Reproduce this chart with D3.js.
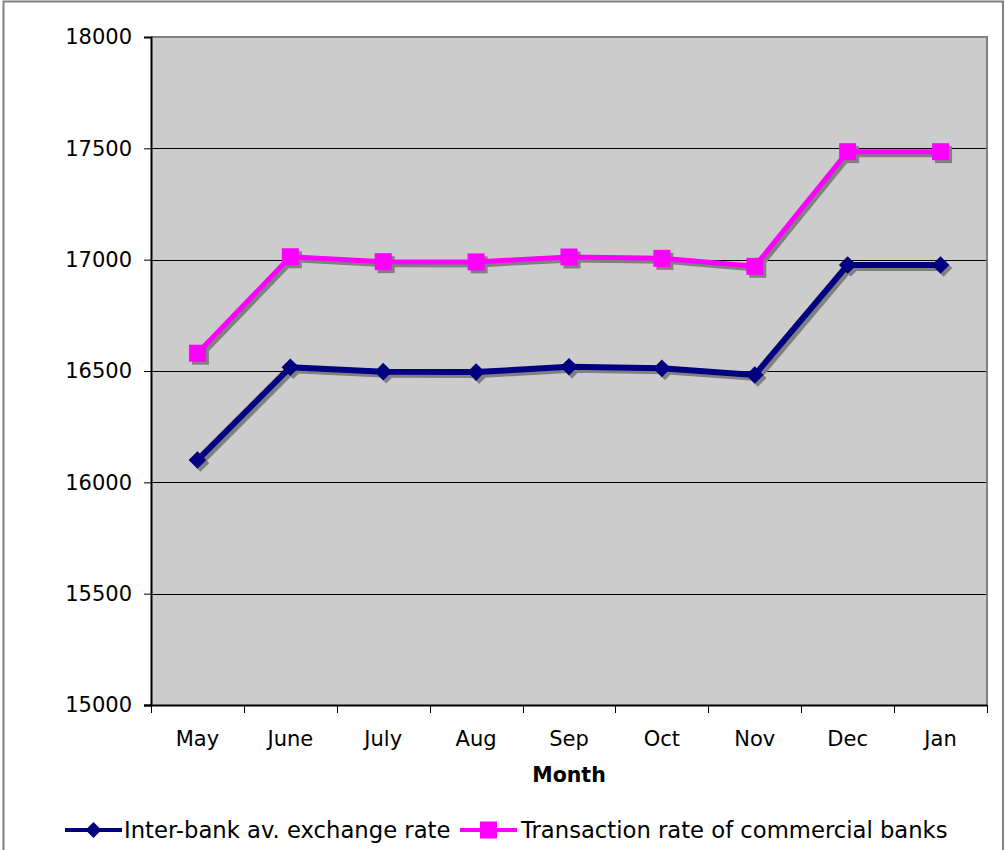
<!DOCTYPE html>
<html>
<head>
<meta charset="utf-8">
<script src="https://cdn.jsdelivr.net/npm/d3@7/dist/d3.min.js"></script>
<style>
  html, body { margin: 0; padding: 0; background: #fff; }
  svg { display: block; }
  text { font-family: "DejaVu Sans", Verdana, sans-serif; fill: #000; }
</style>
</head>
<body>
<svg id="chart" width="1005" height="850"></svg>
<script>
// Monthly exchange rates
const months = ["May", "June", "July", "Aug", "Sep", "Oct", "Nov", "Dec", "Jan"];
const interbankRate = [16100, 16517, 16497, 16495, 16519, 16512, 16482, 16976, 16976];
const commercialRate = [16580, 17013, 16991, 16990, 17012, 17006, 16970, 17485, 17485];
const yTicks = [15000, 15500, 16000, 16500, 17000, 17500, 18000];
const seriesNames = ["Inter-bank av. exchange rate", "Transaction rate of commercial banks"];

const svg = d3.select("#chart");

// outer chart frame
svg.append("rect")
  .attr("x", 3.5).attr("y", 1.5)
  .attr("width", 999.5).attr("height", 870)
  .attr("fill", "#fff").attr("stroke", "#808080").attr("stroke-width", 2);

const plot = { left: 151, right: 987, top: 37, bottom: 705 };

const x = d3.scaleBand().domain(months).range([plot.left, plot.right]).padding(0);
const y = d3.scaleLinear().domain([15000, 18000]).range([plot.bottom, plot.top]);

// plot background
svg.append("rect")
  .attr("x", plot.left).attr("y", plot.top)
  .attr("width", plot.right - plot.left).attr("height", plot.bottom - plot.top)
  .attr("fill", "#cccccc");

// horizontal gridlines
svg.append("g").selectAll("line")
  .data(yTicks.filter(t => t > 15000 && t < 18000))
  .join("line")
  .attr("x1", plot.left).attr("x2", plot.right)
  .attr("y1", d => Math.round(y(d)) + 0.5).attr("y2", d => Math.round(y(d)) + 0.5)
  .attr("stroke", "#000").attr("stroke-width", 1);

// plot border (top and right)
svg.append("path")
  .attr("d", `M${plot.left},${plot.top} H${plot.right} V${plot.bottom}`)
  .attr("fill", "none").attr("stroke", "#808080").attr("stroke-width", 2);

// y axis
const yAxis = d3.axisLeft(y).tickValues(yTicks).tickSize(7).tickPadding(12).tickFormat(d3.format("d"));
const gy = svg.append("g").attr("transform", `translate(${plot.left},0)`).call(yAxis);
gy.select(".domain").attr("stroke", "#000").attr("stroke-width", 2);
gy.selectAll(".tick line").attr("stroke", "#000");
gy.selectAll(".tick text").attr("font-size", 21).attr("font-family", "DejaVu Sans, Verdana, sans-serif").attr("fill", "#000");

// x axis: ticks sit on category boundaries
const gx = svg.append("g").attr("transform", `translate(0,${plot.bottom})`);
gx.append("line")
  .attr("x1", plot.left - 7).attr("x2", plot.right)
  .attr("y1", 0.5).attr("y2", 0.5)
  .attr("stroke", "#000").attr("stroke-width", 2);
const boundaries = months.map(m => x(m)).concat([x(months[months.length - 1]) + x.bandwidth()]);
gx.selectAll("line.tk").data(boundaries).join("line")
  .attr("class", "tk")
  .attr("x1", d => Math.round(d) + 0.5).attr("x2", d => Math.round(d) + 0.5)
  .attr("y1", 0).attr("y2", 8)
  .attr("stroke", "#000");
gx.selectAll("text").data(months).join("text")
  .attr("x", d => x(d) + x.bandwidth() / 2)
  .attr("y", 41)
  .attr("text-anchor", "middle")
  .attr("font-size", 21)
  .text(d => d);

// axis title
svg.append("text")
  .attr("x", (plot.left + plot.right) / 2).attr("y", 782)
  .attr("text-anchor", "middle")
  .attr("font-size", 20.5).attr("font-weight", "bold")
  .text("Month");

const cx = d => x(d) + x.bandwidth() / 2;
const line = d3.line().x(d => cx(d.m)).y(d => y(d.v));

const series = [
  { name: seriesNames[0], values: interbankRate, color: "#000080", width: 6, marker: "diamond", size: 8.8 },
  { name: seriesNames[1], values: commercialRate, color: "#ff00ff", width: 5, marker: "square", size: 8.5 }
];

function markerPath(type, s) {
  if (type === "diamond") return `M0,${-s}L${s},0L0,${s}L${-s},0Z`;
  return `M${-s},${-s}H${s}V${s}H${-s}Z`;
}

const shadowOffset = 3;

series.forEach(sr => {
  const pts = months.map((m, i) => ({ m, v: sr.values[i] }));
  const g = svg.append("g");
  // drop shadow
  g.append("path").datum(pts)
    .attr("d", line)
    .attr("transform", `translate(${shadowOffset},${shadowOffset})`)
    .attr("fill", "none").attr("stroke", "#808080").attr("stroke-width", sr.width)
    .attr("stroke-linejoin", "round");
  g.selectAll("path.ms").data(pts).join("path")
    .attr("class", "ms")
    .attr("d", markerPath(sr.marker, sr.size))
    .attr("transform", d => `translate(${cx(d.m) + shadowOffset},${y(d.v) + shadowOffset})`)
    .attr("fill", "#808080");
  // series line
  g.append("path").datum(pts)
    .attr("d", line)
    .attr("fill", "none").attr("stroke", sr.color).attr("stroke-width", sr.width)
    .attr("stroke-linejoin", "round");
  g.selectAll("path.mk").data(pts).join("path")
    .attr("class", "mk")
    .attr("d", markerPath(sr.marker, sr.size))
    .attr("transform", d => `translate(${cx(d.m)},${y(d.v)})`)
    .attr("fill", sr.color);
});

// legend
const legend = svg.append("g").attr("transform", "translate(0,830)");
const legendItems = [
  { x0: 65, x1: 122, tx: 124, s: series[0], ms: 8 },
  { x0: 460, x1: 517, tx: 521, s: series[1], ms: 8.5 }
];
legendItems.forEach(it => {
  legend.append("line")
    .attr("x1", it.x0).attr("x2", it.x1).attr("y1", 0).attr("y2", 0)
    .attr("stroke", it.s.color).attr("stroke-width", 4);
  legend.append("path")
    .attr("d", markerPath(it.s.marker, it.ms))
    .attr("transform", `translate(${(it.x0 + it.x1) / 2},0)`)
    .attr("fill", it.s.color);
  legend.append("text")
    .attr("x", it.tx).attr("y", 8)
    .attr("font-size", 22.7)
    .text(it.s.name);
});
</script>
</body>
</html>
